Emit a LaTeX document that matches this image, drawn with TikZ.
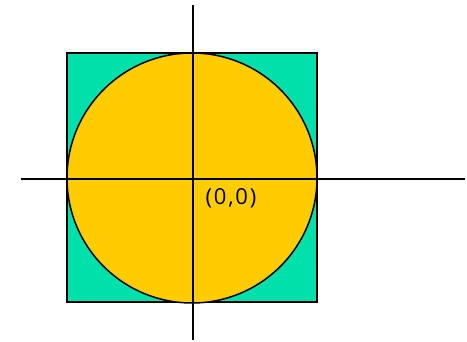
\documentclass[tikz,border=0pt]{standalone}
\usepackage{fontspec}
\setmainfont{Open Sans}[LetterSpace=8]
\definecolor{sqgreen}{RGB}{0,224,170}
\definecolor{circyellow}{RGB}{255,204,0}
\begin{document}
\begin{tikzpicture}[x=1pt,y=-1pt,
  outlined/.style={draw=black,line width=1.5pt},
  axisline/.style={draw=black,line width=1.6pt}]
\useasboundingbox (0,0) rectangle (467,342);
\fill[white] (0,0) rectangle (467,342);
\coordinate (sqa) at (67,53);
\coordinate (sqb) at (317,302);
\coordinate (o) at (192,178);
\filldraw[outlined,fill=sqgreen] (sqa) rectangle (sqb);
\filldraw[outlined,fill=circyellow] (o) circle[radius=125];
\coordinate (xl) at (21,179);
\coordinate (xr) at (465,179);
\coordinate (yt) at (193,5);
\coordinate (yb) at (193,340);
\draw[axisline] (xl) -- (xr);
\draw[axisline] (yt) -- (yb);
\node[anchor=center,inner sep=0pt,font=\fontsize{22}{24}\selectfont] (lbl) at (231,198) {(0,0)};
\end{tikzpicture}
\end{document}
